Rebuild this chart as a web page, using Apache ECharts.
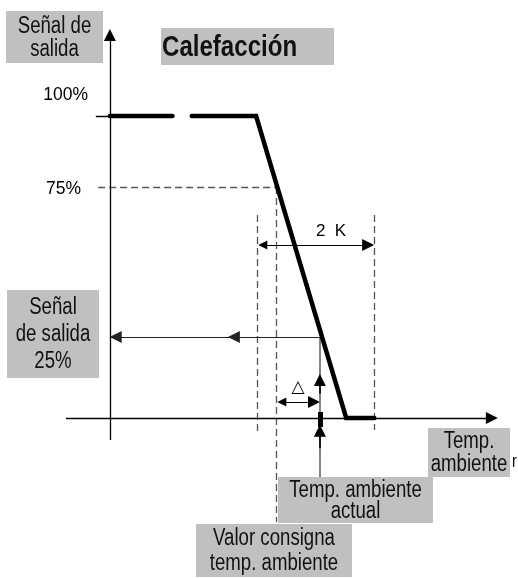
<!DOCTYPE html>
<html><head><meta charset="utf-8">
<script src="https://cdn.jsdelivr.net/npm/echarts@6/dist/echarts.min.js"></script>
<style>html,body{margin:0;padding:0;background:#fff}#c{width:518px;height:578px}</style>
</head><body><div id="c"></div>
<script>
// ---- data (x: room temperature in K relative to set point, y: output signal in %) ----
const curveTemp   = [-2.84, -1.77, '-', -1.44, -0.34, 1.20, 1.68];
const curveSignal = [100,   100,   '-', 100,   100,   0,    0];
const setpointTemp = 0;
const actualTemp = 0.75;
const bandStart = -0.325;          // 2 K band
const bandEnd = 1.675;
const level75 = 76.5;
const level25 = 26.8;
const tickLabels = ['100%', '75%'];
const axisXRange = [-3.59, 3.69];
const axisYRange = [-7.3, 126.8];
const yAxisTemp = -2.84;

const FN = '"Liberation Sans",Arial,sans-serif';
const SX = 0.81;
const chart = echarts.init(document.getElementById('c'), null, {renderer: 'canvas'});

const curveData = curveTemp.map((t, i) => [t, curveSignal[i]]);

function seg(a, b) { return {coords: [a, b]}; }

const plainSolid = [
  seg([yAxisTemp - 0.24, 100], [yAxisTemp, 100])
];
const axisArrows = [
  seg([axisXRange[0], 0], [axisXRange[1], 0]),
  seg([yAxisTemp, axisYRange[0]], [yAxisTemp, axisYRange[1]])
];
const dashed = [
  seg([yAxisTemp - 0.2, level75], [setpointTemp, level75]),
  seg([bandStart, 67.2], [bandStart, -5.6]),
  seg([setpointTemp, level75], [setpointTemp, -34.4]),
  seg([bandEnd, 67.2], [bandEnd, -4])
];
const thinArrows = [
  seg([actualTemp, level25], [yAxisTemp + 0.1, level25]),
  seg([actualTemp, level25], [-0.72, level25])
];
const bothArrows = [
  seg([bandStart + 0.1, 57.3], [bandEnd - 0.1, 57.3]),
  seg([setpointTemp + 0.1, 5.3], [actualTemp - 0.1, 5.3])
];
const grayLine = [ seg([actualTemp, level25], [actualTemp, -19.5]) ];
const grayArrows = [
  seg([actualTemp, -10], [actualTemp, -4.2]),
  seg([actualTemp, 8], [actualTemp, 12.6])
];

function linesSeries(data, style, symbol, z) {
  return {
    type: 'lines', coordinateSystem: 'cartesian2d', polyline: false, silent: true,
    symbol: symbol || ['none', 'none'], symbolSize: [9, 12],
    lineStyle: Object.assign({color: '#000', width: 1, opacity: 1}, style),
    data: data, z: z || 2, animation: false
  };
}

function box(x, y, w, h, text, font, lh, align, sx) {
  const left = align === 'left';
  return {
    type: 'group', children: [
      {type: 'rect', shape: {x: x, y: y, width: w, height: h}, style: {fill: '#c0c0c0'}},
      {type: 'text', x: left ? x + 1 : x + w / 2, y: y + h / 2 + 1, scaleX: sx || SX,
        style: {text: text, x: 0, y: 0,
        align: left ? 'left' : 'center', verticalAlign: 'middle', font: font, lineHeight: lh, fill: '#111'}}
    ]
  };
}

const option = {
  backgroundColor: '#fff',
  animation: false,
  grid: {left: 42, top: 10.3, width: 468, height: 558.7, show: false},
  xAxis: {type: 'value', min: -4, max: 4, show: false},
  yAxis: {type: 'value', min: -50, max: 135, show: false},
  series: [
    linesSeries(axisArrows, {width: 1.3}, ['none', 'triangle'], 3),
    linesSeries(plainSolid, {width: 1.3}),
    linesSeries(dashed, {color: '#555', width: 1.3, type: [7, 4]}),
    linesSeries(thinArrows, {color: '#222', width: 1.2}, ['none', 'triangle']),
    linesSeries(bothArrows, {color: '#000', width: 1.2}, ['triangle', 'triangle']),
    linesSeries(grayLine, {color: '#666', width: 1.6}),
    linesSeries(grayArrows, {color: '#000', width: 1.6}, ['none', 'triangle']),
    linesSeries([seg([actualTemp, -3], [actualTemp, 2])], {color: '#000', width: 5}, null, 6),
    {
      type: 'line', data: curveData, symbol: 'none', connectNulls: false, z: 5,
      lineStyle: {color: '#000', width: 4.5, cap: 'round', join: 'miter'}, animation: false
    }
  ],
  graphic: [
    box(6, 11, 97, 52, 'Señal de\nsalida', '23px ' + FN, 23),
    box(161, 28, 173, 37, 'Calefacción', 'bold 29px ' + FN, 30, 'left', 0.83),
    box(7, 290, 92, 88, 'Señal\nde salida\n25%', '23px ' + FN, 27),
    box(428, 428, 82, 49, 'Temp.\nambiente', '23px ' + FN, 23),
    box(278, 477, 155, 46, 'Temp. ambiente\nactual', '23px ' + FN, 21),
    box(196, 524, 156, 53, 'Valor consigna\ntemp. ambiente', '23px ' + FN, 25),
    {type: 'text', style: {text: tickLabels[0], x: 88, y: 95, align: 'right', verticalAlign: 'middle', font: '17.5px ' + FN, fill: '#000'}},
    {type: 'text', style: {text: tickLabels[1], x: 81, y: 189, align: 'right', verticalAlign: 'middle', font: '17.5px ' + FN, fill: '#000'}},
    {type: 'text', style: {text: '2  K', x: 331, y: 231, align: 'center', verticalAlign: 'middle', font: '17px ' + FN, fill: '#000'}},
    {type: 'text', style: {text: '△', x: 298, y: 388, align: 'center', verticalAlign: 'middle', font: '17px "DejaVu Sans",sans-serif', fill: '#000'}},
    {type: 'text', x: 512, y: 462, scaleX: SX, style: {text: 'r', x: 0, y: 0, align: 'left', verticalAlign: 'middle', font: '18px ' + FN, fill: '#000'}}
  ]
};
chart.setOption(option);
</script></body></html>
